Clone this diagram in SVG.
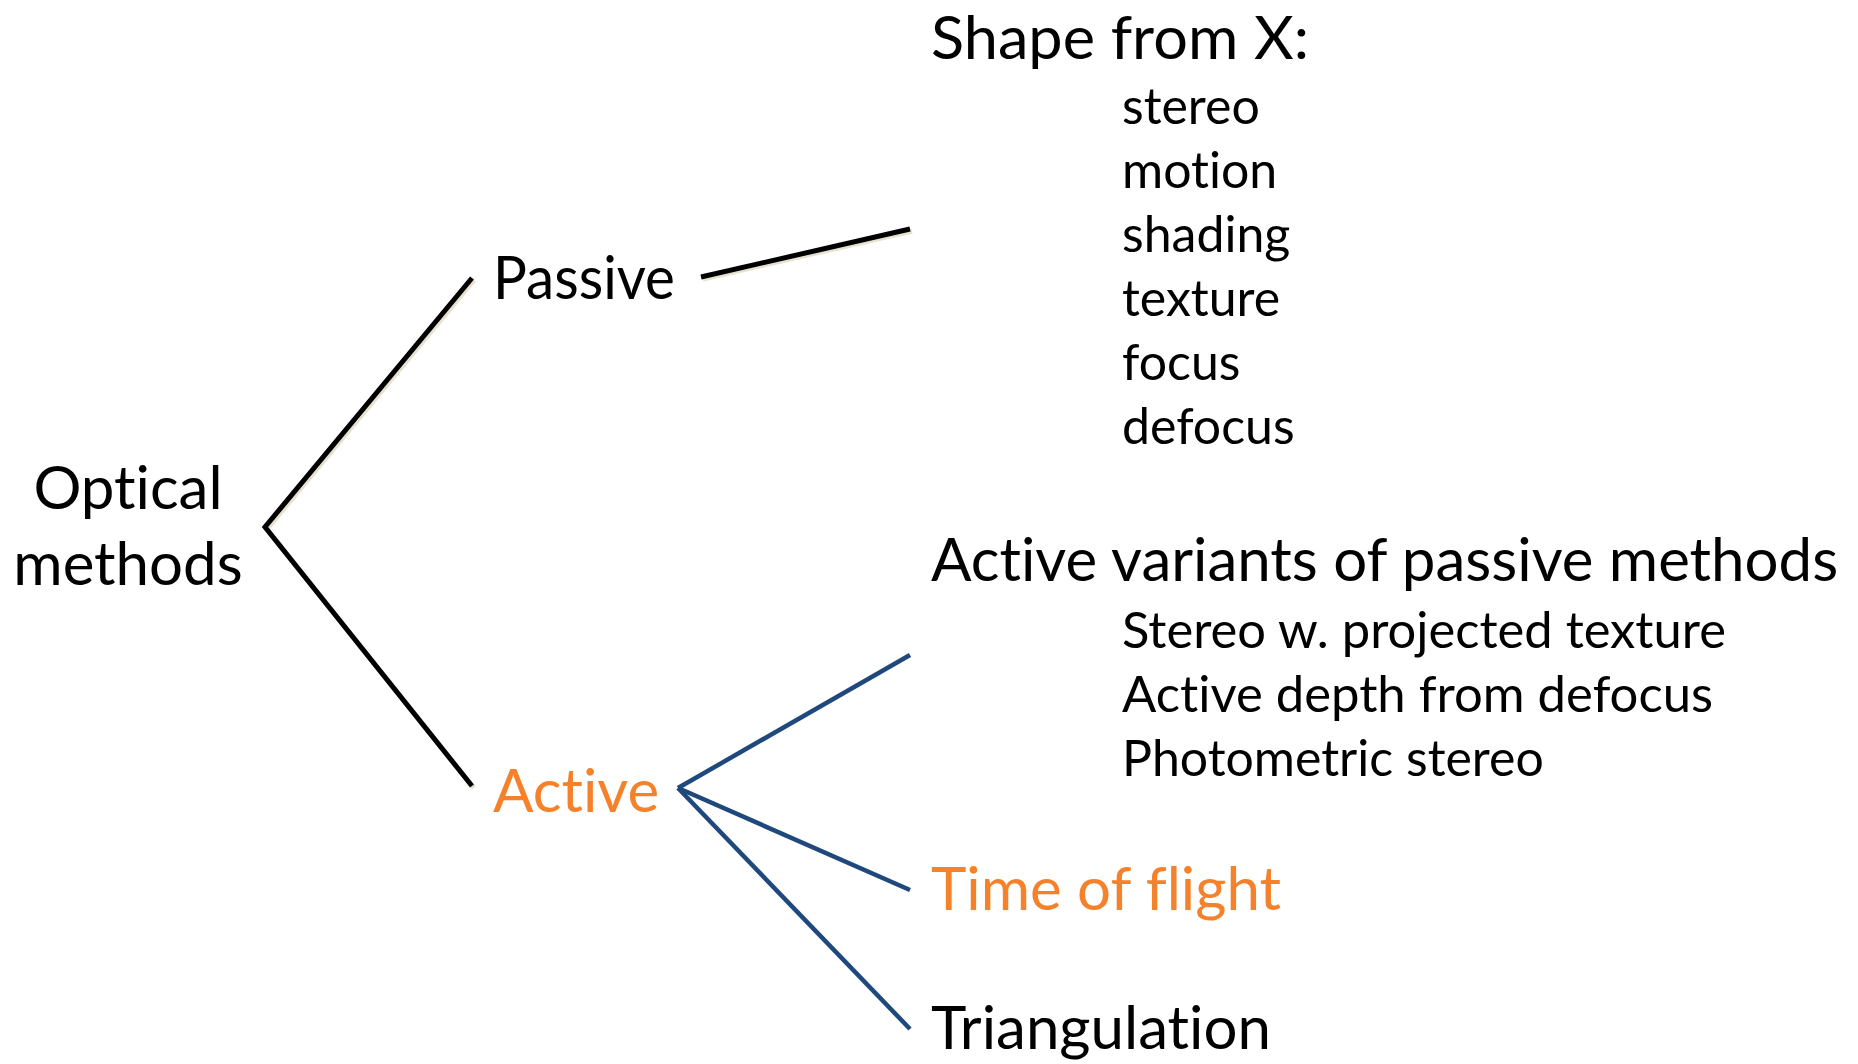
<svg xmlns="http://www.w3.org/2000/svg" width="1858" height="1064" viewBox="0 0 1858 1064">
<style>
text{font-family:Lato,"Open Sans","Liberation Sans",sans-serif;fill:#000;font-variant-ligatures:none;font-feature-settings:"liga" 0,"clig" 0}
.big{font-size:60px}
.sub{font-size:50px}
.org{fill:#F5822A}
.blk{stroke:#000;stroke-width:5;fill:none}
.blu{stroke:#1F497D;stroke-width:4.5;fill:none}
.sh{stroke:#E6E2CF;stroke-width:5;fill:none}
</style>
<rect width="1858" height="1064" fill="#fff"/>
<g id="connectors">
<g transform="translate(2,2)">
<polyline class="sh" points="472,278 265,527 472,786"/>
<line class="sh" x1="701" y1="277" x2="910" y2="229"/>
</g>
<polyline class="blk" points="472,278 265,527 472,786"/>
<line class="blk" x1="701" y1="277" x2="910" y2="229"/>
<line class="blu" x1="678" y1="788" x2="910" y2="655"/>
<line class="blu" x1="678" y1="788" x2="910" y2="890"/>
<line class="blu" x1="678" y1="788" x2="910" y2="1029"/>
</g>
<g id="optical"><text class="big" x="128" y="509" text-anchor="middle">Optical</text><text class="big" x="128" y="585" text-anchor="middle">methods</text></g>
<g id="passive"><text class="big" x="493" y="299" textLength="182" lengthAdjust="spacingAndGlyphs">Passive</text></g>
<g id="active"><text class="big org" x="493" y="812">Active</text></g>
<g id="shape-from-x">
<text class="big" x="931" y="59" textLength="378" lengthAdjust="spacingAndGlyphs">Shape from X:</text>
<text class="sub" x="1122" y="124">stereo</text>
<text class="sub" x="1122" y="188">motion</text>
<text class="sub" x="1122" y="252">shading</text>
<text class="sub" x="1122" y="316">texture</text>
<text class="sub" x="1122" y="380">focus</text>
<text class="sub" x="1122" y="444">defocus</text>
</g>
<g id="active-variants">
<text class="big" x="931" y="581">Active variants of passive methods</text>
<text class="sub" x="1122" y="648" textLength="604" lengthAdjust="spacingAndGlyphs">Stereo w. projected texture</text>
<text class="sub" x="1122" y="712" textLength="591" lengthAdjust="spacingAndGlyphs">Active depth from defocus</text>
<text class="sub" x="1122" y="776">Photometric stereo</text>
</g>
<g id="time-of-flight"><text class="big org" x="931" y="910">Time of flight</text></g>
<g id="triangulation"><text class="big" x="931" y="1049">Triangulation</text></g>
</svg>
